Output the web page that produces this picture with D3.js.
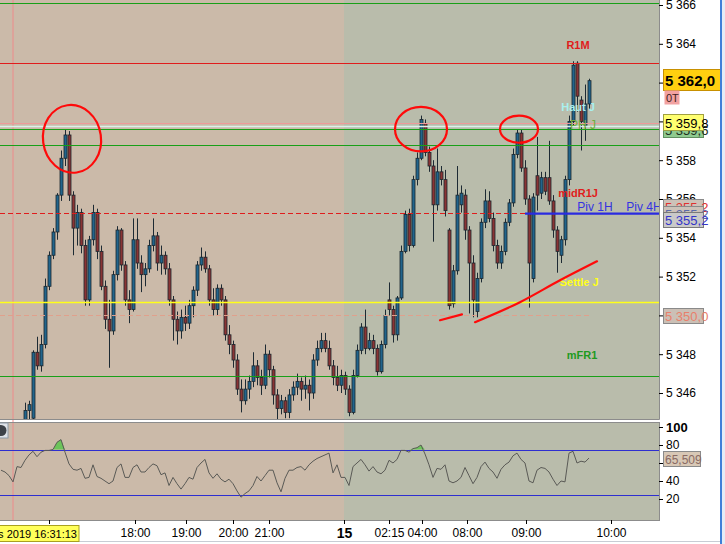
<!DOCTYPE html>
<html>
<head>
<meta charset="utf-8">
<script src="https://d3js.org/d3.v7.min.js"></script>
<style>
  body { margin: 0; background: #fff; overflow: hidden; }
  svg { display: block; font-family: "Liberation Sans", Arial, sans-serif; }
</style>
</head>
<body>
<svg id="chart" width="725" height="544"></svg>
<script>
/* global d3 */

// candles, one every bar (price units)
const opens = [5343.8, 5343.5, 5344.0, 5343.6, 5343.2, 5343.9,
  5344.3, 5345.1, 5344.7, 5348.1, 5347.4, 5348.5, 5351.5, 5353.1, 5354.3, 5356.2,
  5358.1, 5359.3, 5356.2, 5354.5, 5355.3, 5353.6, 5350.8, 5353.9, 5355.3, 5353.3,
  5351.5, 5349.8, 5349.2, 5352.1, 5354.4, 5352.6, 5350.8, 5350.3, 5353.9, 5352.7,
  5352.1, 5352.4, 5353.6, 5354.1, 5352.7, 5353.1, 5352.4, 5350.8, 5349.8, 5349.2,
  5349.9, 5349.6, 5350.5, 5351.3, 5352.6, 5353.0, 5352.4, 5350.8, 5350.3, 5351.4,
  5350.8, 5349.0, 5348.5, 5347.7, 5346.2, 5345.6, 5346.2, 5346.6, 5347.4, 5346.8,
  5346.4, 5348.0, 5347.2, 5345.9, 5345.2, 5345.6, 5345.0, 5345.9, 5346.3, 5346.6,
  5346.2, 5346.4, 5346.0, 5347.7, 5348.3, 5348.7, 5348.3, 5347.4, 5346.8, 5346.4,
  5346.9, 5346.2, 5345.0, 5346.9, 5348.2, 5349.4, 5348.3, 5348.7, 5348.3, 5347.1,
  5348.5, 5350.8, 5350.3, 5349.0, 5350.9, 5353.3, 5355.2, 5353.6, 5357.0, 5358.1,
  5359.9, 5358.4, 5357.7, 5355.7, 5357.4, 5357.0, 5354.4, 5350.6, 5352.3, 5355.7,
  5356.2, 5354.4, 5352.7, 5350.2, 5351.9, 5354.8, 5355.9, 5355.0, 5353.6, 5352.7,
  5353.3, 5354.8, 5355.8, 5358.3, 5359.4, 5357.6, 5356.0, 5351.9, 5357.2, 5356.3,
  5357.1, 5357.1, 5355.9, 5354.4, 5353.1, 5353.9, 5357.0, 5360.0, 5363.0, 5361.1,
  5359.8, 5360.9]
const highs = [5344.3, 5344.2, 5344.4, 5344.0, 5344.1, 5344.5,
  5345.5, 5345.6, 5348.2, 5348.9, 5349.0, 5351.9, 5353.3, 5354.5, 5356.3, 5358.5,
  5359.6, 5359.5, 5356.4, 5355.7, 5355.5, 5353.9, 5354.1, 5355.7, 5355.5, 5353.6,
  5351.8, 5350.8, 5352.3, 5354.6, 5354.5, 5352.8, 5351.3, 5355.0, 5355.0, 5353.1,
  5352.7, 5353.9, 5355.0, 5354.3, 5353.6, 5353.3, 5352.7, 5351.0, 5350.2, 5350.3,
  5350.5, 5350.8, 5351.5, 5352.8, 5353.5, 5353.3, 5352.6, 5351.4, 5351.6, 5351.6,
  5351.0, 5349.5, 5348.7, 5348.0, 5346.7, 5346.7, 5346.9, 5348.1, 5347.7, 5347.2,
  5348.5, 5348.2, 5347.4, 5346.2, 5345.9, 5345.8, 5346.2, 5346.6, 5347.0, 5346.8,
  5346.9, 5346.7, 5348.0, 5348.7, 5349.1, 5349.1, 5348.7, 5347.7, 5347.4, 5347.2,
  5347.1, 5346.4, 5347.2, 5348.5, 5349.6, 5350.3, 5349.1, 5349.0, 5348.5, 5348.7,
  5350.3, 5351.7, 5350.5, 5351.0, 5353.6, 5355.4, 5355.5, 5357.2, 5358.4, 5360.3,
  5360.1, 5358.7, 5358.0, 5358.6, 5357.7, 5357.5, 5354.5, 5352.6, 5357.7, 5356.7,
  5356.5, 5354.6, 5353.1, 5352.2, 5355.0, 5356.5, 5356.4, 5355.3, 5353.9, 5353.6,
  5355.0, 5356.0, 5358.6, 5359.6, 5359.6, 5358.0, 5356.2, 5356.3, 5359.2, 5357.4,
  5357.4, 5359.0, 5356.2, 5354.6, 5354.1, 5357.2, 5360.3, 5363.1, 5363.1, 5361.3,
  5361.9, 5362.2]
const lows = [5343.2, 5343.1, 5343.4, 5342.9, 5343.0, 5343.6,
  5344.1, 5344.6, 5344.6, 5347.2, 5347.1, 5348.3, 5351.3, 5352.9, 5353.9, 5355.9,
  5357.7, 5355.9, 5353.1, 5353.6, 5353.2, 5350.5, 5350.5, 5353.6, 5352.9, 5351.3,
  5349.3, 5347.3, 5349.0, 5351.8, 5352.3, 5350.5, 5349.6, 5350.2, 5352.4, 5351.2,
  5351.5, 5352.2, 5353.3, 5352.3, 5352.1, 5352.1, 5350.5, 5348.7, 5348.5, 5348.8,
  5349.2, 5349.3, 5349.9, 5351.0, 5352.3, 5352.2, 5350.5, 5350.0, 5350.0, 5350.5,
  5348.7, 5348.0, 5347.3, 5345.9, 5345.0, 5345.4, 5345.7, 5346.3, 5346.4, 5345.9,
  5346.2, 5346.8, 5345.4, 5344.6, 5344.9, 5344.7, 5344.7, 5345.6, 5345.9, 5345.6,
  5345.7, 5345.1, 5345.7, 5347.4, 5348.1, 5348.1, 5347.2, 5346.4, 5346.1, 5346.0,
  5345.9, 5344.8, 5344.9, 5346.8, 5348.0, 5348.0, 5348.2, 5348.0, 5346.9, 5347.0,
  5348.3, 5350.0, 5348.6, 5348.7, 5350.8, 5353.2, 5353.3, 5353.5, 5356.7, 5358.0,
  5358.2, 5357.4, 5353.8, 5355.4, 5356.7, 5355.1, 5350.3, 5350.4, 5352.1, 5355.3,
  5353.9, 5350.1, 5349.9, 5349.9, 5351.7, 5354.5, 5354.8, 5353.3, 5352.4, 5352.4,
  5353.1, 5354.6, 5355.6, 5358.1, 5357.4, 5355.7, 5350.4, 5351.7, 5355.4, 5356.0,
  5356.2, 5355.7, 5354.0, 5352.2, 5352.7, 5353.6, 5356.7, 5359.8, 5360.5, 5358.5,
  5359.0, 5360.6]
const closes = [5343.5, 5344.0, 5343.6, 5343.2, 5343.9, 5344.3,
  5345.1, 5345.4, 5348.1, 5347.4, 5348.5, 5351.5, 5353.1, 5354.3, 5356.2, 5358.1,
  5359.3, 5356.2, 5354.5, 5355.3, 5353.6, 5350.8, 5353.9, 5355.3, 5353.3, 5351.5,
  5349.8, 5349.2, 5352.1, 5354.4, 5352.6, 5350.8, 5350.3, 5353.9, 5352.7, 5352.1,
  5352.4, 5353.6, 5354.1, 5352.7, 5353.1, 5352.4, 5350.8, 5349.8, 5349.2, 5349.9,
  5349.6, 5350.5, 5351.3, 5352.6, 5353.0, 5352.4, 5350.8, 5350.3, 5351.4, 5350.8,
  5349.0, 5348.5, 5347.7, 5346.2, 5345.6, 5346.2, 5346.6, 5347.4, 5346.8, 5346.4,
  5348.0, 5347.2, 5345.9, 5345.2, 5345.6, 5345.0, 5345.9, 5346.3, 5346.6, 5346.2,
  5346.4, 5346.0, 5347.7, 5348.3, 5348.7, 5348.3, 5347.4, 5346.8, 5346.4, 5346.9,
  5346.2, 5345.0, 5346.9, 5348.2, 5349.4, 5348.3, 5348.7, 5348.3, 5347.1, 5348.5,
  5350.0, 5350.3, 5349.0, 5350.9, 5353.3, 5355.2, 5353.6, 5357.0, 5358.1, 5360.1,
  5358.4, 5357.7, 5355.7, 5357.4, 5357.0, 5355.4, 5350.5, 5352.3, 5356.2, 5356.3,
  5354.4, 5352.7, 5350.8, 5351.9, 5354.8, 5355.9, 5355.0, 5353.6, 5352.7, 5353.3,
  5354.8, 5355.8, 5358.3, 5359.4, 5357.6, 5356.0, 5352.7, 5356.1, 5356.2, 5357.1,
  5356.4, 5355.9, 5354.4, 5353.3, 5353.9, 5357.0, 5360.0, 5362.9, 5361.3, 5360.0,
  5360.9, 5362.1]

// oscillator (0-100), one value per bar
const oscValues = [52, 50, 46, 39, 56, 55, 63, 69, 73, 67,
  72, 74, 74, 75, 83, 86, 72, 59, 53, 52,
  54, 43, 44, 58, 45, 43, 40, 37, 40, 55,
  59, 44, 44, 55, 58, 50, 50, 55, 59, 57,
  47, 49, 35, 44, 37, 31, 37, 44, 42, 55,
  60, 64, 49, 43, 48, 42, 39, 42, 37, 29,
  22, 26, 29, 35, 45, 40, 46, 52, 52, 38,
  28, 43, 52, 52, 55, 56, 52, 58, 62, 65,
  67, 69, 71, 49, 58, 44, 44, 35, 56, 60,
  64, 58, 51, 56, 50, 48, 52, 63, 60, 64,
  74, 74, 72, 76, 77, 80, 70, 58, 44, 54,
  53, 58, 40, 38, 40, 44, 55, 46, 37, 44,
  56, 61, 54, 50, 43, 53, 58, 61, 68, 71,
  64, 60, 40, 38, 52, 55, 54, 50, 42, 35,
  40, 39, 71, 73, 60, 62, 61, 65.509]
const oscBands = [75, 25]

// time axis (bar index where the tick falls)
const timeTickIdx = [12, 33.5, 46.25, 58, 67, 85.75, 97, 105.25, 116.5, 131.25, 152.5]
const timeTickText = ['', '18:00', '19:00', '20:00', '21:00', '15', '02:15', '04:00', '08:00', '09:00', '10:00']
const sessionStartIdx = 85.75
const cursorIdx = 3
const cursorText = 'jeu. 14 mars 2019 16:31:13'

// horizontal levels
const levelValues = [5366.1, 5363.0, 5359.9, 5359.75, 5359.6, 5358.8, 5355.3, 5350.7, 5350.0, 5346.9]
const levelKinds = ['green', 'red', 'pink', 'cyan', 'green', 'green', 'reddash', 'yellow', 'salmondash', 'green']
const pivValue = 5355.25
const pivStartIdx = 131

// level names written in the chart
const tagText = ['R1M', 'Haut J', 'PH J', 'midR1J', 'Piv 1H', 'Piv 4H', 'Settle J', 'mFR1']
const tagIdx = [144.25, 144.25, 145.5, 144.25, 148.5, 160.75, 144.5, 145.25]
const tagPrice = [5363.95, 5360.75, 5359.8, 5356.3, 5355.6, 5355.6, 5351.7, 5347.95]

// hand-drawn marks (bar index, price)
const circleIdx = [17.75, 105, 129.5]
const circlePrice = [5359.1, 5359.6, 5359.6]
const circleHalfBars = [7.25, 6.5, 4.75]
const circleHalfPts = [1.75, 1.15, 0.7]
const trendA = [[109.75, 5349.75], [115.25, 5350.05]]
const trendB = [[118.5, 5349.65], [129.75, 5350.68], [139.75, 5351.81], [149, 5352.79]]

// price tags on the right scale
const boxValues = [5362.0, 5359.6, 5359.8, 5355.2, 5355.2, 5355.2, 5350.0]

const fr = d3.formatLocale({ decimal: ',', thousands: ' ', grouping: [3], currency: ['', ''] })
const fmt0 = fr.format(',.0f')
const fmt1 = fr.format(',.1f')

const svg = d3.select('#chart')
const plotR = 659
const mainB = 419
const oscT = 422
const oscB = 520

const x = d3.scaleLinear().domain([0, 147]).range([1, 589])
const y = d3.scaleLinear().domain([5346, 5366]).range([393, 5])
const yo = d3.scaleLinear().domain([0, 100]).range([517, 427])

const defs = svg.append('defs')
defs.append('clipPath').attr('id', 'clipMain')
  .append('rect').attr('x', 0).attr('y', 0).attr('width', plotR).attr('height', mainB)
defs.append('clipPath').attr('id', 'clipOsc')
  .append('rect').attr('x', 0).attr('y', oscT).attr('width', plotR).attr('height', oscB - oscT)

const tan = '#cbbaa9'
const grey = '#b9bcab'

// session backgrounds
for (const [t, b] of [[0, mainB], [oscT, oscB]]) {
  svg.append('rect').attr('x', 0).attr('y', t).attr('width', x(sessionStartIdx)).attr('height', b - t).attr('fill', tan)
  svg.append('rect').attr('x', x(sessionStartIdx)).attr('y', t).attr('width', plotR - x(sessionStartIdx)).attr('height', b - t).attr('fill', grey)
}

// cursor line
svg.append('line')
  .attr('x1', x(cursorIdx)).attr('x2', x(cursorIdx))
  .attr('y1', 0).attr('y2', oscB)
  .style('stroke', '#ee8a8a').style('stroke-width', 1)

// candles
const gMain = svg.append('g').attr('clip-path', 'url(#clipMain)')
const bars = d3.range(opens.length)
const cg = gMain.append('g')
cg.selectAll('line.wick').data(bars).join('line')
  .attr('class', 'wick')
  .attr('x1', i => Math.round(x(i)) + 0.5).attr('x2', i => Math.round(x(i)) + 0.5)
  .attr('y1', i => y(highs[i])).attr('y2', i => y(lows[i]))
  .style('stroke', '#1d2a33').style('stroke-width', 1)
cg.selectAll('rect.body').data(bars).join('rect')
  .attr('class', 'body')
  .attr('x', i => Math.round(x(i)) - 1)
  .attr('y', i => y(Math.max(opens[i], closes[i])))
  .attr('width', 3)
  .attr('height', i => Math.max(1, Math.abs(y(opens[i]) - y(closes[i]))))
  .attr('fill', i => closes[i] >= opens[i] ? '#22658c' : '#8a3434')
  .style('stroke', '#1b262e').style('stroke-width', 0.8)

// level lines
const kindStyle = {
  green: { c: '#18a018', w: 1.2, d: null },
  red: { c: '#e01c1c', w: 1, d: null },
  pink: { c: '#ee9a9a', w: 1, d: null },
  cyan: { c: '#d8f2ea', w: 1.5, d: null },
  reddash: { c: '#e01c1c', w: 1.2, d: '5,3' },
  yellow: { c: '#ffff1a', w: 1.5, d: null },
  salmondash: { c: '#e0a08c', w: 1, d: '5,3' }
}
levelValues.forEach((v, k) => {
  const s = kindStyle[levelKinds[k]]
  gMain.append('line')
    .attr('x1', 0)
    .attr('x2', levelKinds[k] === 'salmondash' ? x(147) : plotR)
    .attr('y1', Math.round(y(v)) + 0.5).attr('y2', Math.round(y(v)) + 0.5)
    .style('stroke', s.c).style('stroke-width', s.w)
    .style('stroke-dasharray', s.d)
})
gMain.append('line')
  .attr('x1', x(pivStartIdx)).attr('x2', plotR)
  .attr('y1', y(pivValue)).attr('y2', y(pivValue))
  .style('stroke', '#2a2ae0').style('stroke-width', 2.2)

// names of the levels
const tagColor = ['#e01c1c', '#a9f0ee', '#6fae3c', '#e01c1c', '#3434e0', '#3434e0', '#ffff1a', '#1f9a1f']
const tagBold = [true, true, false, true, false, false, true, true]
tagText.forEach((t, k) => {
  gMain.append('text')
    .attr('x', x(tagIdx[k])).attr('y', y(tagPrice[k]))
    .attr('text-anchor', 'middle').attr('dominant-baseline', 'central')
    .style('font-size', tagBold[k] ? '11px' : '12px')
    .style('font-weight', tagBold[k] ? 'bold' : 'normal')
    .style('fill', tagColor[k])
    .text(t)
})

// red hand drawings
const pen = gMain.append('g').style('fill', 'none').style('stroke', '#ff0a0a')
  .style('stroke-width', 2.2).style('stroke-linecap', 'round')
circleIdx.forEach((ci, k) => {
  pen.append('ellipse')
    .attr('cx', x(ci)).attr('cy', y(circlePrice[k]))
    .attr('rx', x(ci + circleHalfBars[k]) - x(ci))
    .attr('ry', y(circlePrice[k] - circleHalfPts[k]) - y(circlePrice[k]))
    .attr('transform', k === 0 ? `rotate(-8,${x(ci)},${y(circlePrice[k])})` : null)
})
const penLine = d3.line().x(d => x(d[0])).y(d => y(d[1])).curve(d3.curveMonotoneX)
pen.append('path').attr('d', penLine(trendA))
pen.append('path').attr('d', penLine(trendB))

// oscillator
const gOsc = svg.append('g').attr('clip-path', 'url(#clipOsc)')
gOsc.append('path').datum(oscValues)
  .attr('d', d3.area().x((d, i) => x(i)).y0(yo(oscBands[0])).y1(d => yo(Math.max(d, oscBands[0]))))
  .attr('fill', '#6cc45a')
oscBands.forEach(b => {
  gOsc.append('line').attr('x1', 0).attr('x2', plotR)
    .attr('y1', Math.round(yo(b)) + 0.5).attr('y2', Math.round(yo(b)) + 0.5)
    .style('stroke', '#2e2ed0').style('stroke-width', 1)
})
gOsc.append('path').datum(oscValues)
  .attr('d', d3.line().x((d, i) => x(i)).y(d => yo(d)))
  .style('fill', 'none').style('stroke', '#5a5a56').style('stroke-width', 1)

// panel frames
svg.append('path')
  .attr('d', `M${plotR + 0.5},0V${mainB + 0.5}H0`)
  .style('fill', 'none').style('stroke', '#8c8c8c')
svg.append('rect').attr('x', -1).attr('y', oscT + 0.5).attr('width', plotR + 1.5).attr('height', oscB - oscT)
  .style('fill', 'none').style('stroke', '#8c8c8c')

// small close button of the lower panel
svg.append('rect').attr('x', -1).attr('y', oscT + 1).attr('width', 9).attr('height', 15).attr('fill', '#dfe3e8').attr('stroke', '#8c9aa8')
svg.append('circle').attr('cx', 1).attr('cy', oscT + 8.5).attr('r', 5.5).attr('fill', '#3d4248')

// price scale
const axY = svg.append('g').attr('transform', `translate(${plotR},0)`)
  .call(d3.axisRight(y).tickValues(d3.range(5346, 5367, 2)).tickSize(4).tickPadding(3).tickFormat(fmt0))
axY.select('.domain').remove()
axY.selectAll('text').style('font-size', '12px').style('fill', '#000')

// oscillator scale
const axO = svg.append('g').attr('transform', `translate(${plotR},0)`)
  .call(d3.axisRight(yo).tickValues([20, 40, 60, 80, 100]).tickSize(4).tickPadding(3))
axO.select('.domain').remove()
axO.selectAll('text').style('font-size', '12px').style('fill', '#000')
axO.selectAll('.tick').filter(d => d === 100).select('text')
  .style('font-weight', 'bold').style('font-size', '13px')

// time scale
const axX = svg.append('g').attr('transform', `translate(0,${oscB})`)
  .call(d3.axisBottom(x).tickValues(timeTickIdx).tickSize(4).tickPadding(4)
    .tickFormat((d, i) => timeTickText[i]))
axX.select('.domain').remove()
axX.selectAll('text').style('font-size', '12px').style('fill', '#000')
axX.selectAll('.tick').filter(d => d === sessionStartIdx).select('text')
  .style('font-weight', 'bold').style('font-size', '14px')
svg.append('line').attr('x1', 0).attr('x2', 720).attr('y1', 541.5).attr('y2', 541.5).style('stroke', '#c8ccd4')

// cursor time tag
svg.append('rect').attr('x', -1).attr('y', 525.5).attr('width', 80).attr('height', 16)
  .attr('fill', '#ffff5a').attr('stroke', '#a8a020')
svg.append('text').attr('x', 77).attr('y', 534).attr('text-anchor', 'end').attr('dominant-baseline', 'central')
  .style('font-size', '11px').text(cursorText)

// tags on the price scale
const boxTop = [69, 122, 114, 199, 206, 212, 308]
const boxH = [21, 15, 16, 15, 15, 15, 15]
const boxW = [57, 40, 40, 40, 40, 40, 40]
const boxFill = ['#ffcf10', '#8fca8f', '#ffff70', '#cdc2b8', '#cdc2b8', '#c9c9c9', '#cbc0b6']
const boxStroke = ['#c89000', '#609060', '#a0a040', '#8a8a8a', '#8a8a8a', '#7a7a7a', '#8a8a8a']
const boxInk = ['#000', '#203020', '#000', '#e03030', '#5a6aa8', '#3434c8', '#e8806c']
boxValues.forEach((v, k) => {
  svg.append('rect').attr('x', 663.5).attr('y', boxTop[k] + 0.5).attr('width', boxW[k]).attr('height', boxH[k])
    .attr('fill', boxFill[k]).attr('stroke', boxStroke[k])
  svg.append('text').attr('x', 665).attr('y', boxTop[k] + boxH[k] / 2 + 1).attr('dominant-baseline', 'central')
    .style('font-size', k === 0 ? '15px' : '13px').style('font-weight', k === 0 ? 'bold' : 'normal')
    .style('fill', boxInk[k]).text(fmt1(v))
})
svg.append('rect').attr('x', 664.5).attr('y', 90.5).attr('width', 15).attr('height', 14).attr('fill', '#f2a2a2')
svg.append('text').attr('x', 666).attr('y', 98).attr('dominant-baseline', 'central')
  .style('font-size', '11px').style('fill', '#402020').text('0T')

// last oscillator value
svg.append('rect').attr('x', 663.5).attr('y', 451.5).attr('width', 37).attr('height', 15)
  .attr('fill', '#d8c8b6').attr('stroke', '#8a8a8a')
svg.append('text').attr('x', 665).attr('y', 459.5).attr('dominant-baseline', 'central')
  .style('font-size', '12px').style('fill', '#8a6a62').text(fr.format(',.3f')(oscValues[oscValues.length - 1]))

// window edge
svg.append('rect').attr('x', 720).attr('y', 0).attr('width', 2).attr('height', 544).attr('fill', '#3f7fd8')
svg.append('rect').attr('x', 722).attr('y', 0).attr('width', 3).attr('height', 544).attr('fill', '#e4ecf6')
</script>
</body>
</html>
